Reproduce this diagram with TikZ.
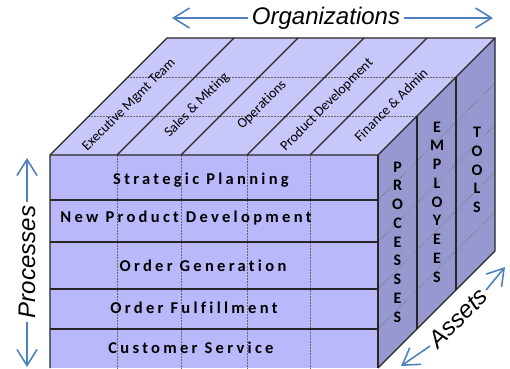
\documentclass[tikz,border=0pt]{standalone}
\usepackage{fontspec}
\setmainfont{Carlito}[Ligatures=NoCommon]
\newfontfamily\axisfont{Liberation Sans}
\usetikzlibrary{arrows.meta}
\definecolor{frontcol}{RGB}{184,184,250}
\definecolor{topcol}{RGB}{199,199,250}
\definecolor{sidecol}{RGB}{152,152,208}
\definecolor{axiscol}{RGB}{79,129,189}

\begin{document}
\begin{tikzpicture}
  [
  x=1pt, y=1pt, line width=1.2pt, draw=black!85,
  axis/.style={draw=axiscol, line width=1.6pt, -{Straight Barb[length=16pt,width=20pt]}},
  axislabel/.style={font=\axisfont\itshape\fontsize{24}{28}\selectfont, inner sep=3pt},
  rowlabel/.style={font=\bfseries\fontsize{16.5}{18}\selectfont\addfontfeature{LetterSpace=20,Ligatures=NoCommon}},
  orglabel/.style={font=\fontsize{14}{16}\selectfont, rotate=45, inner sep=0pt},
  assetlabel/.style={font=\bfseries\fontsize{16}{18.75}\selectfont, align=center, inner sep=0pt},
  grid/.style={densely dotted, line width=0.5pt, draw=black!60},
  ]

\useasboundingbox (0,0) rectangle (510,368);

% faces of the block
\fill[frontcol] (50,0) rectangle (378,213);
\fill[topcol] (50,213) -- (378,213) -- (495,330) -- (167,330) -- cycle;
\fill[sidecol] (378,0) -- (495,117) -- (495,330) -- (378,213) -- cycle;

% dotted cell lines
\foreach \x in {117,181,247,310} {
  \draw[grid] (\x,0) -- (\x,213);
}
\foreach \d in {39,78} {
  \draw[grid] (50+\d,213+\d) -- (378+\d,213+\d);
}
\foreach \y in {39,79,126,168} {
  \draw[grid] (378,\y) -- (495,\y+117);
}

% solid dividers
\foreach \y in {39,79,126,168} {
  \draw[line width=1.5pt] (50,\y) -- (378,\y);
}
\foreach \x in {117,181,247,310} {
  \draw (\x,213) -- (\x+117,330);
}
\foreach \d in {39,78} {
  \draw (378+\d,\d) -- (378+\d,213+\d);
}

% outline
\draw (50,0) -- (50,213) -- (167,330) -- (495,330) -- (495,117) -- (378,0);
\draw (50,213) -- (378,213) -- (495,330);
\draw (378,213) -- (378,0);

% processes
\node[rowlabel] (p1) at (201,188) {Strategic Planning};
\node[rowlabel] (p2) at (186,150) {New Product Development};
\node[rowlabel] (p3) at (203,102) {Order Generation};
\node[rowlabel] (p4) at (194,60) {Order Fulfillment};
\node[rowlabel] (p5) at (191,20) {Customer Service};

% organizations
\foreach \o/\x [count=\i] in {Executive Mgmt Team/129, Sales \& Mkting/197,
    Operations/262, Product Development/327, Finance \& Admin/391} {
  \node[orglabel] (o\i) at (\x,263) {\o};
}

% assets
\node[assetlabel] (a1) at (397.5,126) {P\\R\\O\\C\\E\\S\\S\\E\\S};
\node[assetlabel] (a2) at (437,166) {E\\M\\P\\L\\O\\Y\\E\\E\\S};
\node[assetlabel] (a3) at (477,198) {T\\O\\O\\L\\S};

% axes
\node[axislabel] (org) at (326,350) {Organizations};
\coordinate (orgL) at (172,350);
\coordinate (orgR) at (493,350);
\draw[axis] (org.west) -- (orgL);
\draw[axis] (org.east) -- (orgR);

\node[axislabel, rotate=90] (proc) at (27,106) {Processes};
\coordinate (procT) at (27,210);
\coordinate (procB) at (27,1);
\draw[axis] (proc.east) -- (procT);
\draw[axis] (proc.west) -- (procB);

\node[axislabel, rotate=45] (asset) at (458,50) {Assets};
\coordinate (assetL) at (401,2);
\coordinate (assetR) at (505,101);
\draw[axis] (asset.west) -- (assetL);
\draw[axis] (asset.east) -- (assetR);
\end{tikzpicture}
\end{document}
